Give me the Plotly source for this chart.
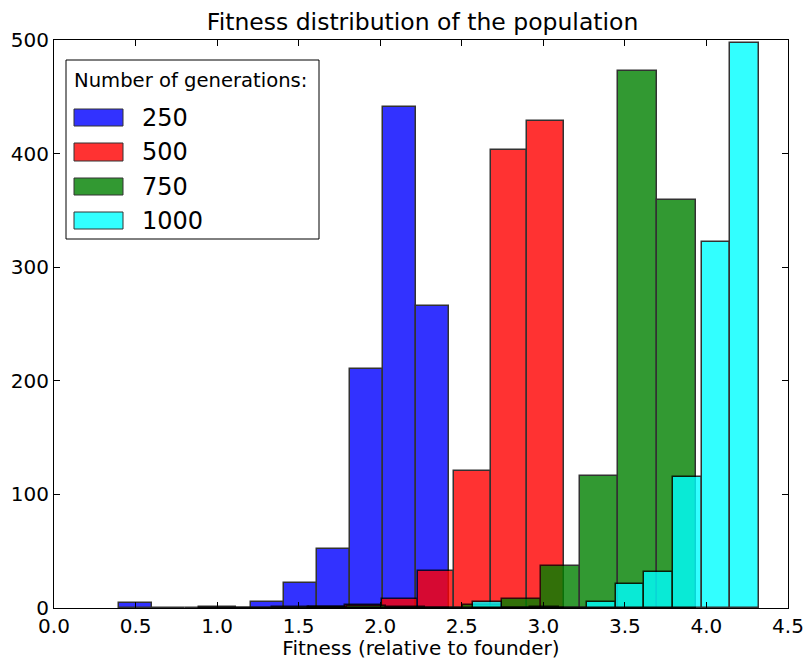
import numpy as np
import plotly.graph_objects as go

# Histogram data (counts per bin, 10 bins per series)
generations = ["250", "500", "750", "1000"]
bin_ranges = [(0.40, 2.42), (0.89, 3.126), (1.559, 3.935), (2.57, 4.32)]
counts_250 = [4, 0, 0, 0, 5, 22, 52, 210, 441, 266]
counts_500 = [1, 0, 1, 1, 3, 8, 33, 121, 403, 429]
counts_750 = [1, 2, 1, 0, 3, 8, 37, 116, 473, 359]
counts_1000 = [5, 0, 1, 0, 5, 21, 32, 115, 322, 497]
all_counts = [counts_250, counts_500, counts_750, counts_1000]
colors = ["#0000ff", "#ff0000", "#008000", "#00ffff"]

x_ticks = [0.0, 0.5, 1.0, 1.5, 2.0, 2.5, 3.0, 3.5, 4.0, 4.5]
y_ticks = [0, 100, 200, 300, 400, 500]

FONT = "DejaVu Sans"

fig = go.Figure()
for name, (lo, hi), counts, col in zip(generations, bin_ranges, all_counts, colors):
    edges = np.linspace(lo, hi, len(counts) + 1)
    centers = (edges[:-1] + edges[1:]) / 2
    widths = np.diff(edges)
    fig.add_trace(go.Bar(
        x=centers, y=counts, width=widths, name=name,
        marker=dict(color=col, line=dict(color="black", width=1.5)),
        opacity=0.8, showlegend=False,
    ))

L, R, T, B = 54, 20, 40, 52
fig.update_layout(
    width=808, height=660,
    margin=dict(l=L, r=R, t=T, b=B),
    barmode="overlay", bargap=0,
    plot_bgcolor="white", paper_bgcolor="white",
    font=dict(family=FONT, size=20, color="black"),
    title=dict(text="Fitness distribution of the population", x=0.523, xanchor="center",
               y=1 - 22 / 660, yanchor="middle", font=dict(size=23.5, family=FONT)),
)
axis_common = dict(showline=True, linecolor="black", linewidth=1, mirror="allticks",
                   ticks="inside", ticklen=6, tickcolor="black", showgrid=False, zeroline=False,
                   automargin=False, tickfont=dict(size=20, family=FONT))
fig.update_xaxes(range=[0, 4.5], tickvals=x_ticks, ticktext=[f"{v:.1f}" for v in x_ticks],
                 title=dict(text="Fitness (relative to founder)", font=dict(size=20, family=FONT), standoff=4),
                 **axis_common)
fig.update_yaxes(range=[0, 500], tickvals=y_ticks, ticktext=[str(v) for v in y_ticks], **axis_common)

# Custom legend (matplotlib-like wide patches)
W = 808 - L - R
H = 660 - T - B

def py(pix):
    return (660 - B - pix) / H

def px(pix):
    return (pix - L) / W

shapes = [dict(type="rect", xref="paper", yref="paper", x0=px(66), x1=px(319), y0=py(239), y1=py(60),
               line=dict(color="black", width=1), fillcolor="white", layer="above")]
annotations = [dict(text="Number of generations:", xref="paper", yref="paper", x=px(72), y=py(81),
                    xanchor="left", yanchor="middle", showarrow=False, font=dict(size=19.6, family=FONT))]
patch_rows = [(109, 126), (143, 161), (178, 195), (212, 229)]
for (t, b), col, name in zip(patch_rows, colors, generations):
    shapes.append(dict(type="rect", xref="paper", yref="paper", x0=px(74), x1=px(123), y0=py(b), y1=py(t),
                       line=dict(color="black", width=1), fillcolor=col, opacity=0.8, layer="above"))
    annotations.append(dict(text=name, xref="paper", yref="paper", x=px(140), y=py((t + b) / 2),
                            xanchor="left", yanchor="middle", showarrow=False,
                            font=dict(size=24, family=FONT)))
fig.update_layout(shapes=shapes, annotations=annotations)

fig.write_html("out.html", config={"displayModeBar": False},
               post_script="document.body.style.margin='0';document.body.style.overflow='hidden';")
